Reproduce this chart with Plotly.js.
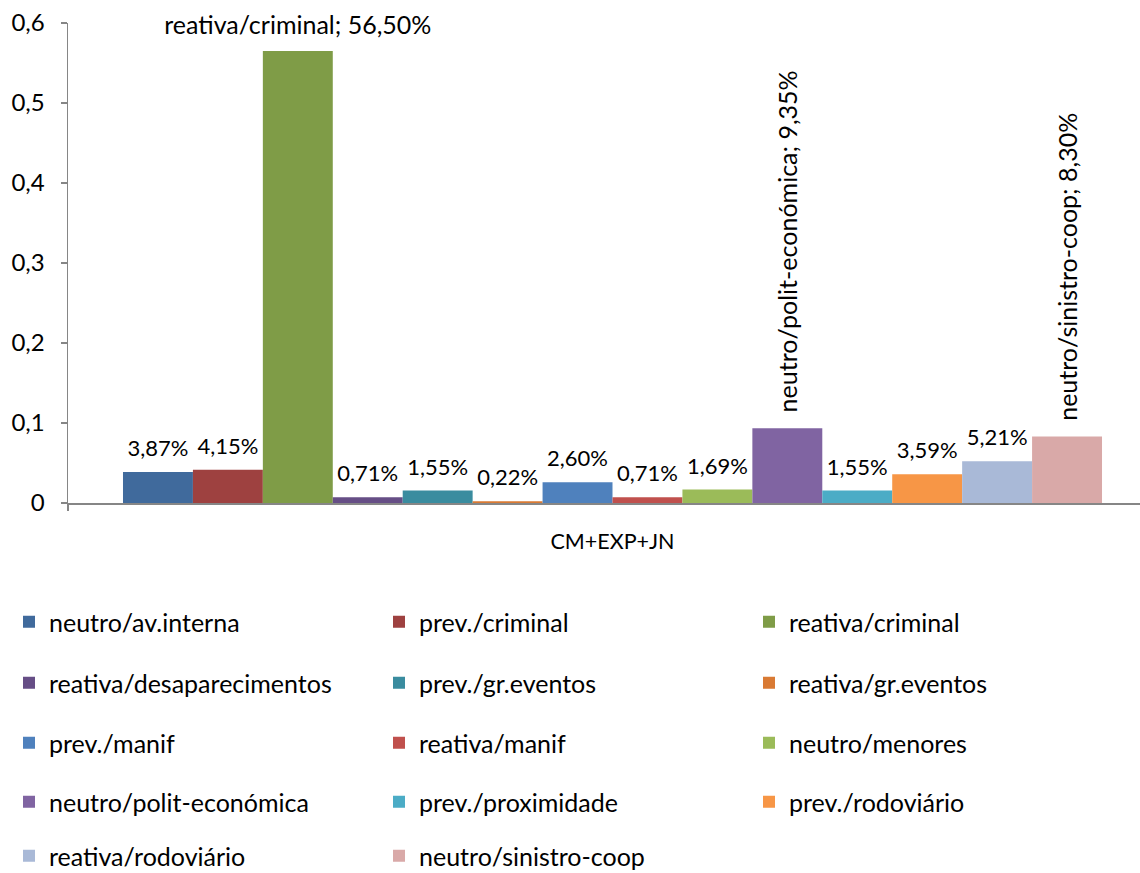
<!DOCTYPE html>
<html>
<head>
<meta charset="utf-8">
<script src="https://cdn.plot.ly/plotly-3.0.1.min.js"></script>
<style>
html,body{margin:0;padding:0;overflow:hidden;background:#fff;}
#chart{width:1157px;height:900px;}
</style>
</head>
<body>
<div id="chart"></div>
<script>
const category = ["CM+EXP+JN"];
const seriesNames = [
  "neutro/av.interna", "prev./criminal", "reativa/criminal",
  "reativa/desaparecimentos", "prev./gr.eventos", "reativa/gr.eventos",
  "prev./manif", "reativa/manif", "neutro/menores",
  "neutro/polit-económica", "prev./proximidade", "prev./rodoviário",
  "reativa/rodoviário", "neutro/sinistro-coop"
];
const seriesValues = [0.0387, 0.0415, 0.5650, 0.0071, 0.0155, 0.0022, 0.0260, 0.0071, 0.0169, 0.0935, 0.0155, 0.0359, 0.0521, 0.0830];
const seriesColors = ["#406A9C", "#9E4140", "#7F9C47", "#664E86", "#3A8C9F", "#D97A34",
  "#4F81BD", "#C0504D", "#9BBB59", "#8064A2", "#4BACC6", "#F79646", "#A9B9D7", "#D9A9A8"];
const labelWithName = [false, false, true, false, false, false, false, false, false, true, false, false, false, true];
const labelVertical = [false, false, false, false, false, false, false, false, false, true, false, false, false, true];
const yTickVals = [0, 0.1, 0.2, 0.3, 0.4, 0.5, 0.6];

const FONT = "Lato, Carlito, Calibri, 'Open Sans', sans-serif";
const GAP = 0.101;
const W = 1157, H = 900, ML = 68, MT = 23, PLOT_H = 480;

function pct(v) {
  return (v * 100).toFixed(2).replace(".", ",") + "%";
}
function labelText(i) {
  return labelWithName[i] ? seriesNames[i] + "; " + pct(seriesValues[i]) : pct(seriesValues[i]);
}

const barTraces = seriesNames.map((name, i) => ({
  type: "bar",
  name: name,
  x: category,
  y: [seriesValues[i]],
  marker: {color: seriesColors[i], line: {width: 0}},
  text: [labelVertical[i] ? "\u00A0\u00A0" + labelText(i) : ""],
  texttemplate: "%{text}",
  textposition: "outside",
  textangle: -90,
  constraintext: "none",
  cliponaxis: false,
  textfont: {family: FONT, size: 25, color: "#000"},
  hoverinfo: "name+y",
  legend: i < 3 ? "legend" : "legend" + (Math.floor(i / 3) + 1)
}));

const labelTraces = seriesNames.map((name, i) => ({
  type: "scatter",
  mode: "markers+text",
  name: name + " label",
  showlegend: false,
  x: category,
  y: [seriesValues[i]],
  marker: {size: 15, color: "rgba(0,0,0,0)"},
  text: [labelVertical[i] ? "" : labelText(i)],
  textposition: "top center",
  textfont: {family: FONT, size: labelWithName[i] ? 25 : 22, color: "#000"},
  cliponaxis: false,
  hoverinfo: "skip"
}));

const plotW = W - ML;
const zeroY = MT + PLOT_H;
const legendRowsY = [622, 683, 743, 802, 856];
function legendCfg(yPx) {
  return {
    orientation: "h",
    x: (9 - ML) / plotW,
    xanchor: "left",
    y: (zeroY - yPx) / PLOT_H,
    yanchor: "middle",
    entrywidth: 325,
    entrywidthmode: "pixels",
    font: {family: FONT, size: 25, color: "#000"},
    bgcolor: "rgba(0,0,0,0)",
    traceorder: "normal"
  };
}

const layout = {
  width: W,
  height: H,
  margin: {l: ML, r: 0, t: MT, b: H - zeroY},
  paper_bgcolor: "#fff",
  plot_bgcolor: "#fff",
  separators: ", ",
  barmode: "group",
  bargap: GAP,
  bargroupgap: 0,
  scattermode: "group",
  scattergap: GAP,
  showlegend: true,
  font: {family: FONT, size: 20, color: "#000"},
  xaxis: {
    type: "category",
    showgrid: false,
    showline: true,
    linecolor: "#868686",
    linewidth: 1.5,
    ticks: "outside",
    tickson: "boundaries",
    ticklen: 6,
    tickcolor: "#868686",
    tickwidth: 1.5,
    ticklabelstandoff: 19,
    tickfont: {family: FONT, size: 21.5, color: "#000"},
    zeroline: false,
    fixedrange: true
  },
  yaxis: {
    range: [0, 0.6],
    tickvals: yTickVals,
    showgrid: false,
    showline: true,
    linecolor: "#868686",
    linewidth: 1.5,
    ticks: "outside",
    ticklen: 6,
    tickcolor: "#868686",
    tickwidth: 1.5,
    ticklabelstandoff: 11,
    tickfont: {family: FONT, size: 24, color: "#000"},
    zeroline: false,
    fixedrange: true
  },
  legend: legendCfg(legendRowsY[0]),
  legend2: legendCfg(legendRowsY[1]),
  legend3: legendCfg(legendRowsY[2]),
  legend4: legendCfg(legendRowsY[3]),
  legend5: legendCfg(legendRowsY[4])
};

Plotly.newPlot("chart", barTraces.concat(labelTraces), layout, {staticPlot: true, displayModeBar: false});
</script>
</body>
</html>
